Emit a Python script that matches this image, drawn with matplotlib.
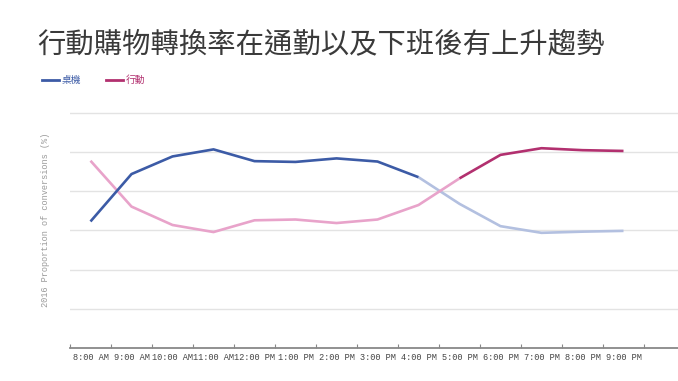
import numpy as np
import matplotlib
matplotlib.use('Agg')
import matplotlib.pyplot as plt
from matplotlib.lines import Line2D

# data (share of conversions, %)
hours = ['8:00 AM', '9:00 AM', '10:00 AM', '11:00 AM', '12:00 PM', '1:00 PM', '2:00 PM',
         '3:00 PM', '4:00 PM', '5:00 PM', '6:00 PM', '7:00 PM', '8:00 PM', '9:00 PM']
desktop = [42.3, 54.4, 58.9, 60.7, 57.7, 57.5, 58.4, 57.6, 53.6, 46.8, 41.1, 39.4, 39.7, 39.9]
mobile = [57.8, 46.1, 41.4, 39.6, 42.6, 42.8, 41.9, 42.8, 46.5, 53.3, 59.3, 61.0, 60.5, 60.3]
desktop_split = 8   # 4:00 PM, desktop highlighted before
mobile_split = 9    # 5:00 PM, mobile highlighted after

title = '行動購物轉換率在通勤以及下班後有上升趨勢'
ylabel = '2016 Proportion of conversions (%)'

cjk = ['Noto Sans CJK TC', 'DejaVu Sans']
mono = ['Liberation Mono', 'DejaVu Sans Mono']

c_desk = '#3c5ba6'
c_desk_lt = '#b3c0e0'
c_mob = '#b2306f'
c_mob_lt = '#e8a3ca'

fig = plt.figure(figsize=(6.78, 3.81), dpi=100)
ax = fig.add_axes([70 / 678, 1 - 348 / 381, 1 - 70 / 678, (348 - 111) / 381])

x = np.arange(len(hours))
lw = 1.9
ax.plot(x[desktop_split:], desktop[desktop_split:], color=c_desk_lt, lw=lw, solid_capstyle='butt')
ax.plot(x[:mobile_split + 1], mobile[:mobile_split + 1], color=c_mob_lt, lw=lw, solid_capstyle='butt')
ax.plot(x[:desktop_split + 1], desktop[:desktop_split + 1], color=c_desk, lw=lw, solid_capstyle='butt')
ax.plot(x[mobile_split:], mobile[mobile_split:], color=c_mob, lw=lw, solid_capstyle='butt')

ax.set_xlim(-0.5, -0.5 + 608 / 41)
ax.set_ylim(10, 70.5)

ax.set_yticks([20, 30, 40, 50, 60, 70])
ax.yaxis.grid(True, color='#e3e3e3', lw=1)
ax.tick_params(axis='y', left=False, labelleft=False)

ax.set_xticks(np.arange(-0.5, len(hours), 1.0))
ax.set_xticks(x, minor=True)
ax.set_xticklabels(hours, minor=True, fontsize=6.2, family=mono, color='#444444')
ax.tick_params(axis='x', which='major', direction='in', length=3, color='#888888', labelbottom=False)
ax.tick_params(axis='x', which='minor', length=0, pad=3.5)

for s in ['top', 'right', 'left']:
    ax.spines[s].set_visible(False)
ax.spines['bottom'].set_color('#888888')
ax.spines['bottom'].set_linewidth(1.3)
ax.set_axisbelow(True)

fig.text(45 / 678, 1 - 220 / 381, ylabel, rotation=90, ha='center', va='center',
         fontsize=6.2, family=mono, color='#9a9a9a')

fig.text(37 / 678, 1 - 44 / 381, title, ha='left', va='center', fontsize=20.4,
         family=cjk, fontweight='light', color='#3a3a3a')

handles = [Line2D([], [], color=c_desk, lw=2), Line2D([], [], color=c_mob, lw=2)]
leg = fig.legend(handles, ['桌機', '行動'], loc='center left', bbox_to_anchor=(33 / 678, 1 - 80 / 381),
                 ncol=2, frameon=False, handlelength=1.8, handletextpad=0.2, columnspacing=2.6,
                 prop={'family': cjk, 'size': 7})
for t, c in zip(leg.get_texts(), [c_desk, c_mob]):
    t.set_color(c)

fig.savefig('out.png', dpi=100)
